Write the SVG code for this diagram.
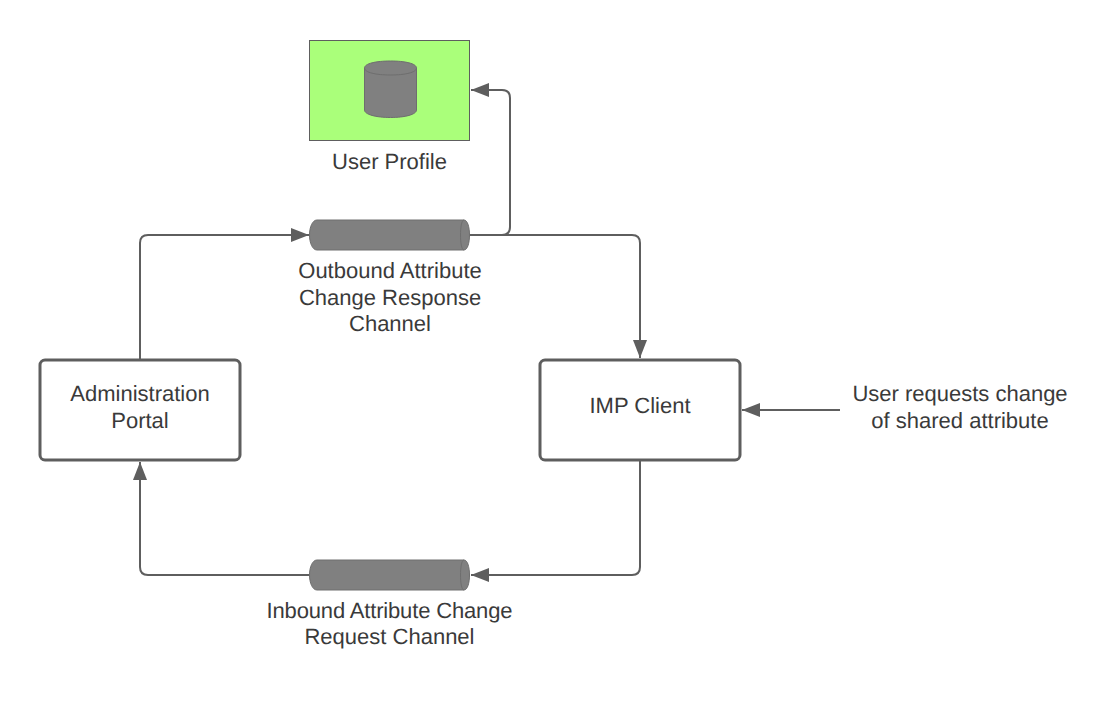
<svg xmlns="http://www.w3.org/2000/svg" width="1120" height="703" viewBox="0 0 1120 703">
<defs>
<marker id="arrow" markerUnits="userSpaceOnUse" markerWidth="20" markerHeight="16" refX="18" refY="7" orient="auto"><path d="M0 0L18 7L0 14Z" fill="#5e5e5e"/></marker>
</defs>
<style>
text{font-family:"Liberation Sans",Arial,sans-serif;font-size:22px;fill:#3a3a3a;text-anchor:middle;text-rendering:geometricPrecision}
.box{fill:#fff;stroke:#5e5e5e;stroke-width:3}
.conn{fill:none;stroke:#5e5e5e;stroke-width:2}
.shape{fill:#808080;stroke:#6e6e6e;stroke-width:1}
</style>
<rect width="1120" height="703" fill="#fff"/>
<g id="connectors">
<path class="conn" d="M140 360V243Q140 235 148 235H309" marker-end="url(#arrow)"/>
<path class="conn" d="M470 235H632Q640 235 640 243V358" marker-end="url(#arrow)"/>
<path class="conn" d="M502 235Q510 235 510 227V98Q510 90 502 90H471" marker-end="url(#arrow)"/>
<path class="conn" d="M640 461V567Q640 575 632 575H471" marker-end="url(#arrow)"/>
<path class="conn" d="M309 575H148Q140 575 140 567V462" marker-end="url(#arrow)"/>
<path class="conn" d="M840 410H742" marker-end="url(#arrow)"/>
</g>
<g id="user-profile">
<rect x="309.500" y="40.500" width="160" height="100" fill="#aaff7a" stroke="#5e5e5e"/>
<path class="shape" d="M364.500 68V110C364.500 114.500 376 117.500 390.500 117.500S416.500 114.500 416.500 110V68C416.500 63.500 405 61 390.500 61S364.500 63.500 364.500 68Z"/>
<path class="shape" fill="none" d="M364.500 68C364.500 72.500 376 75 390.500 75S416.500 72.500 416.500 68"/>
<text x="389.500" y="169">User Profile</text>
</g>
<g id="outbound-channel">
<path class="shape" d="M317 220H464C467.500 220 469.500 227 469.500 235S467.500 250 464 250H317C312.500 250 309.500 243 309.500 235S312.500 220 317 220Z"/>
<path class="shape" d="M464 220C461.500 220 460.500 228 460.500 235S461.500 250 464 250"/>
<text x="390" y="278">Outbound Attribute</text>
<text x="390" y="305">Change Response</text>
<text x="390" y="331">Channel</text>
</g>
<g id="inbound-channel">
<path class="shape" d="M317 560H464C467.500 560 469.500 567 469.500 575S467.500 590 464 590H317C312.500 590 309.500 583 309.500 575S312.500 560 317 560Z"/>
<path class="shape" d="M464 560C461.500 560 460.500 568 460.500 575S461.500 590 464 590"/>
<text x="389.500" y="618" textLength="246">Inbound Attribute Change</text>
<text x="389.500" y="644">Request Channel</text>
</g>
<g id="admin-portal">
<rect class="box" x="40" y="360" width="200" height="100" rx="5"/>
<text x="140" y="401">Administration</text>
<text x="140" y="428">Portal</text>
</g>
<g id="imp-client">
<rect class="box" x="540" y="360" width="200" height="100" rx="5"/>
<text x="640" y="413">IMP Client</text>
</g>
<g id="user-request">
<text x="960" y="401">User requests change</text>
<text x="960" y="428">of shared attribute</text>
</g>
</svg>
